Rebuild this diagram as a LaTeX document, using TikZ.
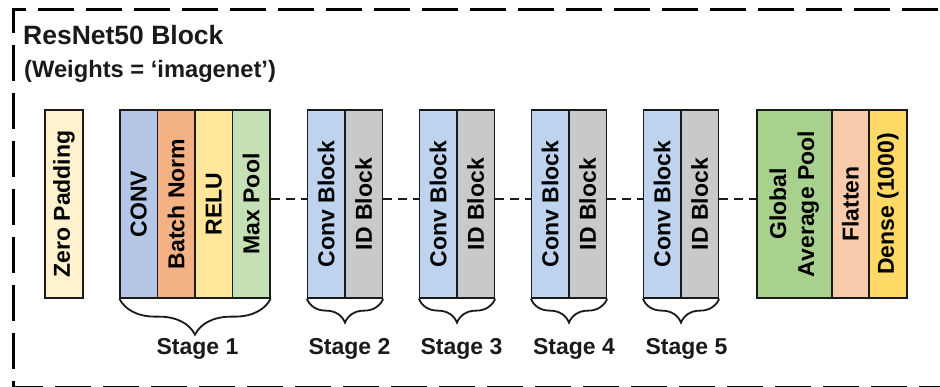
\documentclass[tikz,border=0pt]{standalone}
\usepackage{fontspec}
\setmainfont{Liberation Sans}
\usetikzlibrary{decorations.pathreplacing,calc}

\definecolor{cpad}{HTML}{FFF2CC}
\definecolor{cconv}{HTML}{B4C7E7}
\definecolor{cbn}{HTML}{F4B183}
\definecolor{crelu}{HTML}{FFE699}
\definecolor{cpool}{HTML}{C5E0B4}
\definecolor{cblk}{HTML}{BDD3EE}
\definecolor{cid}{HTML}{C9C9C9}
\definecolor{cgap}{HTML}{A9D18E}
\definecolor{cflat}{HTML}{F8CBAD}
\definecolor{cdense}{HTML}{FFD966}
\definecolor{ink}{HTML}{1A1A1A}

\begin{document}
\begin{tikzpicture}[x=1pt,y=-1pt,
  layer/.style={draw=ink, line width=1.3pt, inner sep=0pt,
    minimum height=188pt, minimum width=#1,
    font=\fontsize{23}{28}\selectfont\bfseries},
  layer/.default=37.5pt,
  stagebrace/.style={draw=ink, line width=1.8pt,
    decorate, decoration={brace, mirror, amplitude=#1}},
  stagelbl/.style={anchor=base, inner sep=0pt, text=ink,
    font=\fontsize{23}{28}\selectfont\bfseries},
  link/.style={draw=ink, line width=2.2pt, dash pattern=on 9pt off 6pt},
  outerframe/.style={draw=black, line width=3pt, dash pattern=on 36pt off 12pt}]

\useasboundingbox (0,0) rectangle (940,387);
\clip (0,0) rectangle (940,387);

% outer dashed frame
\draw[outerframe] (13,33) -- (13,10) -- (960,10);
\draw[outerframe] (13,45) -- (13,387.2) -- (960,387.2);

% title
\node[anchor=base west, inner sep=0pt, text=ink,
  font=\fontsize{26.5}{30}\selectfont\bfseries] (title) at (23,45) {ResNet50 Block};
\node[anchor=base west, inner sep=0pt, text=ink,
  font=\fontsize{23.7}{28}\selectfont\bfseries] (weights) at (24,78) {(Weights = ‘imagenet’)};

% input padding
\node[layer=38pt, fill=cpad] (zp) at (64,204) {\rotatebox{90}{Zero Padding}};

% stage 1
\node[layer, fill=cconv] (conv) at (138.75,204) {\rotatebox{90}{CONV}};
\node[layer, fill=cbn]   (bn)   at (176.25,204) {\rotatebox{90}{Batch Norm}};
\node[layer, fill=crelu] (relu) at (213.75,204) {\rotatebox{90}{RELU}};
\node[layer, fill=cpool] (mp)   at (251.25,204) {\rotatebox{90}{Max Pool}};

% stages 2-5
\node[layer, fill=cblk] (s2c) at (326.25,204) {\rotatebox{90}{Conv Block}};
\node[layer, fill=cid]  (s2i) at (363.75,204) {\rotatebox{90}{ID Block}};
\node[layer, fill=cblk] (s3c) at (438.25,204) {\rotatebox{90}{Conv Block}};
\node[layer, fill=cid]  (s3i) at (475.75,204) {\rotatebox{90}{ID Block}};
\node[layer, fill=cblk] (s4c) at (550.25,204) {\rotatebox{90}{Conv Block}};
\node[layer, fill=cid]  (s4i) at (587.75,204) {\rotatebox{90}{ID Block}};
\node[layer, fill=cblk] (s5c) at (662.25,204) {\rotatebox{90}{Conv Block}};
\node[layer, fill=cid]  (s5i) at (699.75,204) {\rotatebox{90}{ID Block}};

% head
\node[layer=75pt, fill=cgap] (gap) at (794.5,204)
  {\rotatebox{90}{\begin{tabular}{@{}c@{}}Global\\Average Pool\end{tabular}}};
\node[layer=37pt, fill=cflat]  (flat)  at (850.5,204) {\rotatebox{90}{Flatten}};
\node[layer=38pt, fill=cdense] (dense) at (888,204)   {\rotatebox{90}{Dense (1000)}};

% dashed links between groups
\coordinate (lvl) at (0,199);
\draw[link] (mp.east |- lvl)  -- (s2c.west |- lvl);
\draw[link] (s2i.east |- lvl) -- (s3c.west |- lvl);
\draw[link] (s3i.east |- lvl) -- (s4c.west |- lvl);
\draw[link] (s4i.east |- lvl) -- (s5c.west |- lvl);
\draw[link] (s5i.east |- lvl) -- (gap.west |- lvl);

% stage braces
\draw[stagebrace=36pt] (conv.south west) -- (mp.south east);
\draw[stagebrace=24pt] (s2c.south west) -- (s2i.south east);
\draw[stagebrace=24pt] (s3c.south west) -- (s3i.south east);
\draw[stagebrace=24pt] (s4c.south west) -- (s4i.south east);
\draw[stagebrace=24pt] (s5c.south west) -- (s5i.south east);

% stage labels
\node[stagelbl] (st1) at (197.5,355) {Stage 1};
\node[stagelbl] (st2) at (349.5,355) {Stage 2};
\node[stagelbl] (st3) at (461.5,355) {Stage 3};
\node[stagelbl] (st4) at (574,355)   {Stage 4};
\node[stagelbl] (st5) at (686.5,355) {Stage 5};
\end{tikzpicture}
\end{document}
